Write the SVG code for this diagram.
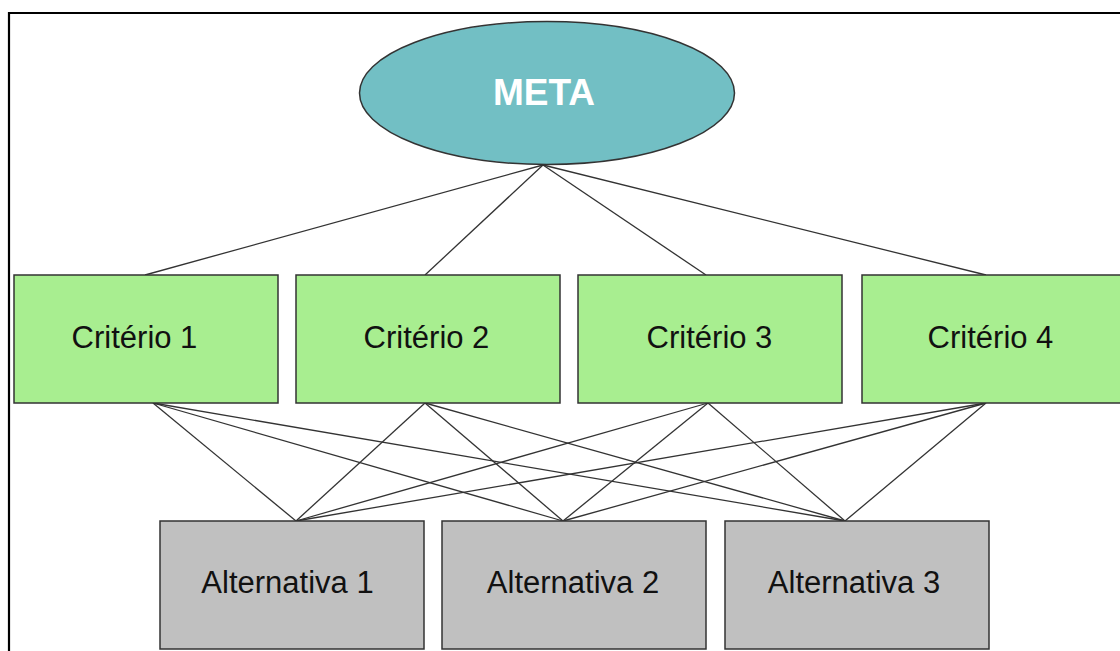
<svg xmlns="http://www.w3.org/2000/svg" width="1120" height="651" viewBox="0 0 1120 651">
<style>
.crit rect{fill:#A8EE90;stroke:#333;stroke-width:1.5}
.alt rect{fill:#C0C0C0;stroke:#333;stroke-width:1.5}
.lbl{font-family:"Liberation Sans",Arial,sans-serif;font-size:31px;fill:#111;text-anchor:middle}
#connectors line{stroke:#333;stroke-width:1.3}
</style>
<rect x="0" y="0" width="1120" height="651" fill="#fff"/>
<path d="M9,651 V13 H1120" fill="none" stroke="#000" stroke-width="2.2"/>
<g id="connectors">
<line x1="543" y1="165" x2="145" y2="275"/>
<line x1="543" y1="165" x2="425" y2="275"/>
<line x1="543" y1="165" x2="706" y2="275"/>
<line x1="543" y1="165" x2="986" y2="275"/>
<line x1="153" y1="403" x2="296" y2="521"/>
<line x1="153" y1="403" x2="563" y2="521"/>
<line x1="153" y1="403" x2="845" y2="521"/>
<line x1="425" y1="403" x2="296" y2="521"/>
<line x1="425" y1="403" x2="563" y2="521"/>
<line x1="425" y1="403" x2="845" y2="521"/>
<line x1="708" y1="403" x2="296" y2="521"/>
<line x1="708" y1="403" x2="563" y2="521"/>
<line x1="708" y1="403" x2="845" y2="521"/>
<line x1="986" y1="403" x2="296" y2="521"/>
<line x1="986" y1="403" x2="563" y2="521"/>
<line x1="986" y1="403" x2="845" y2="521"/>
</g>
<g id="meta">
<ellipse cx="547" cy="93" rx="187.5" ry="71.5" fill="#72BFC4" stroke="#333" stroke-width="1.5"/>
<text x="544" y="105" font-family="Liberation Sans,Arial,sans-serif" font-size="37" font-weight="bold" fill="#fff" text-anchor="middle">META</text>
</g>
<g id="criterio1" class="crit"><rect x="14" y="275" width="264" height="128"/><text class="lbl" x="134.5" y="348">Critério 1</text></g>
<g id="criterio2" class="crit"><rect x="296" y="275" width="264" height="128"/><text class="lbl" x="426.5" y="348">Critério 2</text></g>
<g id="criterio3" class="crit"><rect x="578" y="275" width="264" height="128"/><text class="lbl" x="709.5" y="348">Critério 3</text></g>
<g id="criterio4" class="crit"><rect x="862" y="275" width="264" height="128"/><text class="lbl" x="990.5" y="348">Critério 4</text></g>
<g id="alternativa1" class="alt"><rect x="160" y="521" width="264" height="128"/><text class="lbl" x="287.5" y="593">Alternativa 1</text></g>
<g id="alternativa2" class="alt"><rect x="442" y="521" width="264" height="128"/><text class="lbl" x="573" y="593">Alternativa 2</text></g>
<g id="alternativa3" class="alt"><rect x="725" y="521" width="264" height="128"/><text class="lbl" x="854" y="593">Alternativa 3</text></g>
</svg>
